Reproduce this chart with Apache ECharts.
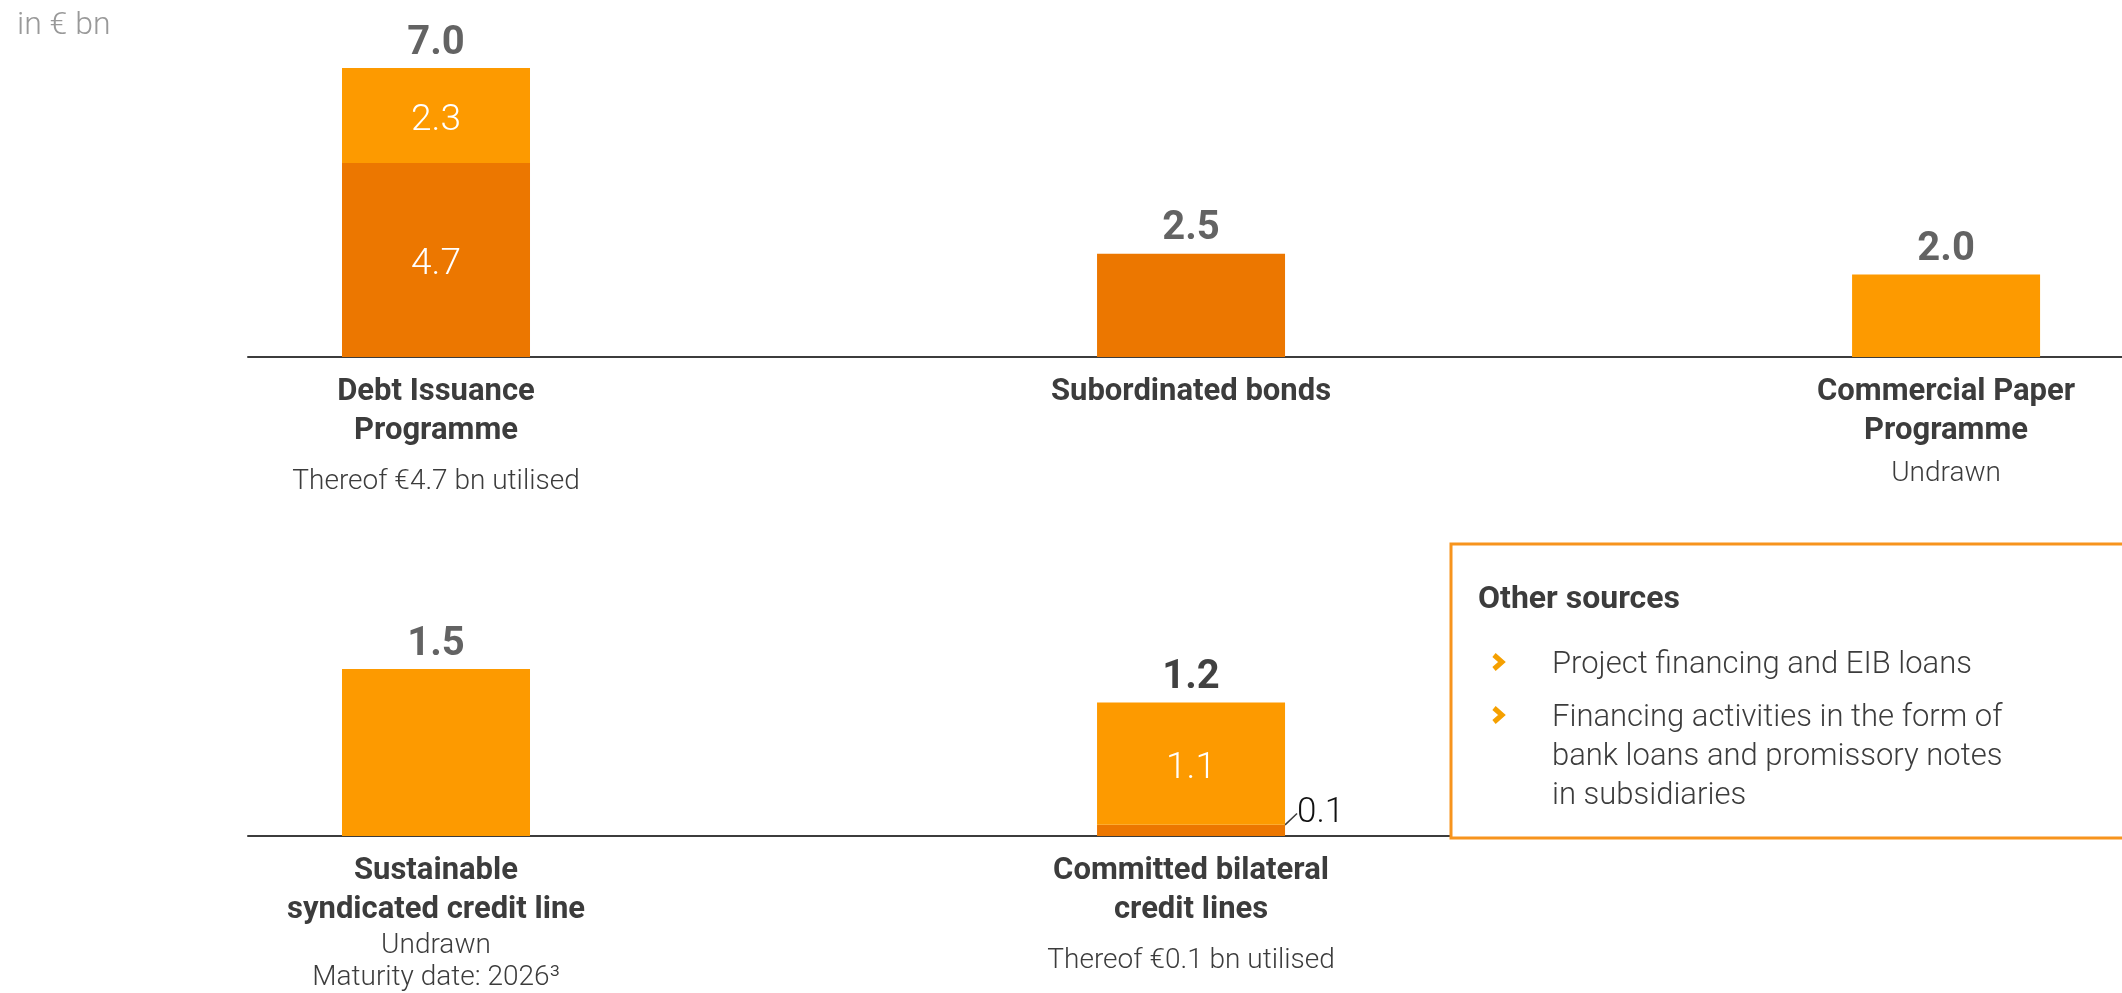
<!DOCTYPE html>
<html>
<head>
<meta charset="utf-8">
<script src="https://cdn.jsdelivr.net/npm/echarts@6/dist/echarts.min.js"></script>
<style>
  html, body { margin: 0; padding: 0; background: #fff; }
  #main { width: 2122px; height: 993px; }
</style>
</head>
<body>
<div id="main"></div>
<script>
// values in € bn
var topCategories = ['Debt Issuance\nProgramme', 'Subordinated bonds', 'Commercial Paper\nProgramme'];
var topNotes = [['Thereof €4.7 bn utilised'], [], ['Undrawn']];
var topUtilised = [4.7, 2.5, 0];
var topUndrawn = [2.3, 0, 2.0];
var topTotals = [7.0, 2.5, 2.0];

var bottomCategories = ['Sustainable\nsyndicated credit line', 'Committed bilateral\ncredit lines'];
var bottomNotes = [['Undrawn', 'Maturity date: 2026³'], ['Thereof €0.1 bn utilised']];
var bottomUtilised = [0, 0.1];
var bottomUndrawn = [1.5, 1.1];
var bottomTotals = [1.5, 1.2];

var otherSources = [
  'Project financing and EIB loans',
  'Financing activities in the form of\nbank loans and promissory notes\nin subsidiaries'
];

var FONT = 'Roboto';
var DARK = '#ec7700';
var LIGHT = '#fd9a00';
var TEXT = '#3c3c3c';

// first note line sits a bit lower under some labels
var topLead = ['nl', 'n', 'nm'];
var bottomLead = ['n', 'nl'];

function catLabel(names, notes, lead) {
  return function (v) {
    var i = Math.round(v);
    var out = names[i].split('\n').map(function (s) { return '{b|' + s + '}'; });
    notes[i].forEach(function (s, k) {
      out.push('{' + (k === 0 ? lead[i] : 'n') + '|' + s + '}');
    });
    return out.join('\n');
  };
}

var richLabel = {
  b: { fontFamily: FONT, fontWeight: 'bold', fontSize: 31, color: TEXT, lineHeight: 39, align: 'center' },
  n: { fontFamily: FONT, fontWeight: 300, fontSize: 28, color: TEXT, lineHeight: 32, align: 'center' },
  nm: { fontFamily: FONT, fontWeight: 300, fontSize: 28, color: TEXT, lineHeight: 46, align: 'center' },
  nl: { fontFamily: FONT, fontWeight: 300, fontSize: 28, color: TEXT, lineHeight: 62, align: 'center' }
};

function xAxisFor(idx, names, notes, lead) {
  return {
    type: 'value', gridIndex: idx, min: -0.249, max: 2.233,
    splitLine: { show: false },
    axisTick: { show: false },
    axisLine: { show: true, lineStyle: { color: TEXT, width: 2 } },
    axisLabel: {
      customValues: names.map(function (_, i) { return i; }),
      margin: 16,
      formatter: catLabel(names, notes, lead),
      rich: richLabel
    }
  };
}

// value first, position second, so the stack runs on the value
function partSeries(idx, stack, values, other, color) {
  return {
    type: 'bar', xAxisIndex: idx, yAxisIndex: idx, stack: stack,
    encode: { x: 1, y: 0 },
    barWidth: 188, itemStyle: { color: color },
    data: values.map(function (v, i) {
      var both = v > 0 && other[i] > 0;
      var item = { value: [v, i] };
      if (both && v >= 0.5) {
        item.label = { show: true, position: 'inside', color: '#fff', fontSize: 37, fontWeight: 300, fontFamily: FONT };
      } else if (both) {
        item.label = { show: true, position: 'right', distance: 12, color: '#111', fontSize: 35, fontWeight: 300, fontFamily: FONT };
        item.labelLine = { show: true, lineStyle: { color: TEXT, width: 1.5 } };
      }
      return item;
    }),
    label: { show: false, formatter: function (p) { return p.value[0].toFixed(1); } },
    labelLayout: function (p) {
      // thin slice: lift its label up beside the bar, otherwise nudge down a touch
      return p.rect.height < 20 ? { dx: 0, dy: -17 } : { dy: 5 };
    }
  };
}

function totalSeries(idx, totals, colors) {
  return {
    type: 'scatter', xAxisIndex: idx, yAxisIndex: idx,
    symbolSize: 1, itemStyle: { color: 'transparent' },
    data: totals.map(function (v, i) {
      return { value: [i, v], label: { color: colors[i] } };
    }),
    label: {
      show: true, position: 'top', distance: 4,
      fontFamily: FONT, fontWeight: 'bold', fontSize: 40,
      formatter: function (p) { return p.value[1].toFixed(1); }
    },
    z: 5
  };
}

// "Other sources" box
var boxGraphics = [
  { type: 'rect', x: 1451, y: 544, shape: { width: 700, height: 294 },
    style: { fill: '#fff', stroke: '#f7941d', lineWidth: 3 }, z: 100 },
  { type: 'text', x: 1478, y: 600,
    style: { text: 'Other sources', fontFamily: FONT, fontWeight: 'bold', fontSize: 32, fill: TEXT, verticalAlign: 'middle' }, z: 101 }
];
var yCursor = 646;
otherSources.forEach(function (s) {
  var lines = s.split('\n').length;
  boxGraphics.push({ type: 'polyline', x: 1498, y: yCursor + 16,
    shape: { points: [[-4, -7], [4, 0], [-4, 7]] },
    style: { stroke: '#f5a000', lineWidth: 5, fill: null, lineJoin: 'miter' }, z: 101 });
  boxGraphics.push({ type: 'text', x: 1552, y: yCursor,
    style: { text: s, fontFamily: FONT, fontWeight: 300, fontSize: 31, fill: TEXT, lineHeight: 39, verticalAlign: 'top' }, z: 101 });
  yCursor += lines * 39 + 14;
});

var chart = echarts.init(document.getElementById('main'));
chart.setOption({
  animation: false,
  backgroundColor: '#fff',
  title: {
    text: 'in € bn', left: 12, top: 5,
    textStyle: { fontFamily: FONT, fontWeight: 300, fontSize: 32, color: '#999' }
  },
  grid: [
    { left: 248, right: 0, top: 68, bottom: 636 },
    { left: 248, right: 0, top: 669, bottom: 157 }
  ],
  xAxis: [
    xAxisFor(0, topCategories, topNotes, topLead),
    xAxisFor(1, bottomCategories, bottomNotes, bottomLead)
  ],
  yAxis: [
    { type: 'value', gridIndex: 0, min: 0, max: 7, show: false },
    { type: 'value', gridIndex: 1, min: 0, max: 1.5, show: false }
  ],
  series: [
    partSeries(0, 'top', topUtilised, topUndrawn, DARK),
    partSeries(0, 'top', topUndrawn, topUtilised, LIGHT),
    totalSeries(0, topTotals, [TEXT, TEXT, TEXT]),
    partSeries(1, 'bottom', bottomUtilised, bottomUndrawn, DARK),
    partSeries(1, 'bottom', bottomUndrawn, bottomUtilised, LIGHT),
    totalSeries(1, bottomTotals, [TEXT, '#111'])
  ],
  graphic: boxGraphics
});
</script>
</body>
</html>
